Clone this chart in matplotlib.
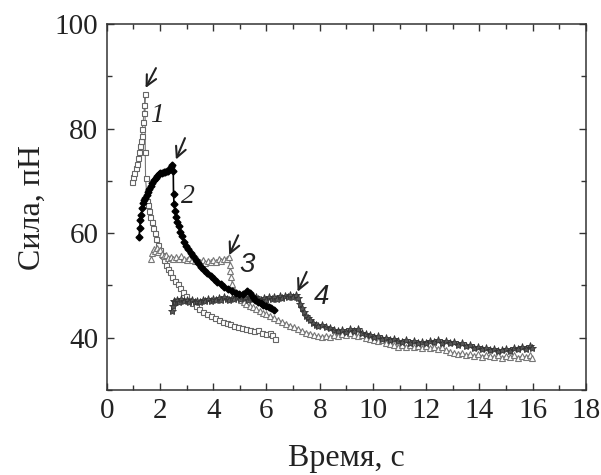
import matplotlib

matplotlib.use("Agg")
import matplotlib.pyplot as plt
from matplotlib.ticker import MultipleLocator

plt.rcParams["font.family"] = ["Liberation Serif", "DejaVu Serif"]

# curve 1 (open squares)
t1 = [0.94, 0.99, 1.04, 1.09, 1.14, 1.18, 1.21, 1.25, 1.28, 1.31, 1.34, 1.37, 1.40, 1.42, 1.44,
      1.45, 1.46, 1.50, 1.53, 1.56, 1.60, 1.64, 1.69, 1.74, 1.80, 1.86, 1.93, 2.00, 2.07, 2.14,
      2.22, 2.30, 2.38, 2.47, 2.56, 2.66, 2.76, 2.87, 2.98, 3.10, 3.22, 3.35, 3.48, 3.62, 3.76,
      3.90, 4.05, 4.20, 4.35, 4.50, 4.65, 4.80, 4.95, 5.10, 5.25, 5.40, 5.55, 5.70, 5.85, 6.00,
      6.12, 6.22, 6.32]
f1 = [69.8, 70.8, 71.6, 72.5, 73.3, 74.4, 75.5, 76.6, 77.6, 78.6, 80.0, 81.3, 83.0, 84.6, 86.6,
      75.5, 70.5, 67.8, 66.2, 65.4, 64.3, 63.2, 62.1, 61.0, 60.0, 58.9, 57.8, 56.8, 55.8, 54.9,
      54.0, 53.2, 52.5, 51.7, 50.9, 50.2, 49.5, 48.7, 48.0, 47.3, 46.6, 46.0, 45.5, 45.0, 44.5,
      44.1, 43.8, 43.4, 43.1, 42.8, 42.6, 42.3, 42.1, 41.9, 41.7, 41.5, 41.3, 41.4, 41.0, 40.8,
      41.0, 40.5, 39.7]

# curve 2 (filled black)
t2 = [1.22, 1.24, 1.27, 1.30, 1.33, 1.36, 1.40, 1.45, 1.50, 1.55, 1.60, 1.66, 1.72, 1.78, 1.84,
      1.90, 1.96, 2.02, 2.08, 2.14, 2.20, 2.26, 2.32, 2.38, 2.43, 2.47, 2.50, 2.51, 2.53, 2.56,
      2.60, 2.65, 2.70, 2.76, 2.83, 2.90, 2.98, 3.06, 3.15, 3.24, 3.34, 3.44, 3.55, 3.66, 3.78,
      3.90, 4.02, 4.15, 4.28, 4.42, 4.56, 4.70, 4.84, 4.98, 5.12, 5.26, 5.38, 5.48, 5.58, 5.68,
      5.78, 5.88, 5.98, 6.08, 6.18, 6.28]
f2 = [59.3, 61.0, 62.5, 63.5, 64.8, 65.8, 66.3, 66.8, 67.3, 67.8, 68.4, 69.0, 69.6, 70.2, 70.6,
      71.0, 71.3, 71.5, 71.6, 71.8, 71.7, 71.9, 72.0, 72.3, 72.6, 73.0, 72.0, 67.5, 65.6, 64.3,
      63.2, 62.2, 61.3, 60.3, 59.4, 58.3, 57.6, 57.0, 56.3, 55.6, 54.9, 54.3, 53.6, 53.0, 52.4,
      51.8, 51.2, 50.7, 50.2, 49.7, 49.3, 48.9, 48.6, 48.3, 48.3, 49.0, 48.6, 47.8, 47.3, 46.9,
      46.6, 46.3, 46.0, 45.8, 45.6, 45.4]

# curve 3 (open triangles)
t3 = [1.68, 1.72, 1.76, 1.82, 1.88, 1.94, 2.00, 2.07, 2.14, 2.22, 2.30, 2.40, 2.50, 2.60, 2.70,
      2.80, 2.90, 3.00, 3.10, 3.20, 3.30, 3.40, 3.50, 3.60, 3.70, 3.80, 3.90, 4.00, 4.10, 4.20,
      4.30, 4.40, 4.50, 4.58, 4.62, 4.65, 4.68, 4.72, 4.78, 4.86, 4.95, 5.05, 5.15, 5.25, 5.38,
      5.50, 5.62, 5.75, 5.88, 6.00, 6.15, 6.30, 6.45, 6.60, 6.75, 6.90, 7.05, 7.20, 7.35, 7.50,
      7.65, 7.80, 7.95, 8.10, 8.25, 8.40, 8.55, 8.70, 8.85, 9.00, 9.15, 9.30, 9.45, 9.60, 9.75,
      9.90, 10.05, 10.20, 10.35, 10.50, 10.65, 10.80, 10.95, 11.10, 11.25, 11.40, 11.55, 11.70,
      11.85, 12.00, 12.15, 12.30, 12.45, 12.60, 12.75, 12.90, 13.05, 13.20, 13.35, 13.50, 13.65,
      13.80, 13.95, 14.10, 14.25, 14.40, 14.55, 14.70, 14.85, 15.00, 15.15, 15.30, 15.45, 15.60,
      15.75, 15.90, 15.98]
f3 = [55.0, 56.3, 57.0, 56.6, 57.1, 56.5, 56.8, 56.0, 55.6, 55.9, 55.2, 55.5, 55.0, 55.4, 55.1,
      55.6, 55.0, 54.8, 55.3, 54.9, 54.6, 55.0, 54.5, 54.8, 54.3, 54.7, 54.4, 54.9, 54.5, 55.0,
      54.6, 55.1, 55.0, 55.5, 54.0, 52.8, 51.6, 50.3, 49.2, 48.4, 47.8, 47.3, 46.9, 46.5, 46.1,
      45.8, 45.5, 45.1, 44.8, 44.5, 44.2, 43.7, 43.4, 43.0, 42.7, 42.3, 42.0, 41.7, 41.3, 41.0,
      40.8, 40.5, 40.3, 40.2, 40.4, 40.1, 40.6, 40.3, 40.8, 40.5, 40.9, 40.6, 40.3, 40.5, 40.0,
      39.8, 39.6, 39.3, 39.5, 39.0, 38.8, 38.6, 38.3, 38.7, 38.3, 38.6, 38.2, 38.5, 38.1, 38.5,
      38.0, 38.3, 37.9, 38.2, 37.7, 37.3, 37.0, 36.8, 37.1, 36.6, 36.9, 36.5, 36.8, 36.4, 36.7,
      36.5, 36.3, 36.6, 36.2, 36.5, 36.3, 36.6, 36.2, 36.5, 36.3, 36.6, 36.2]

# curve 4 (stars)
t4 = [2.44, 2.48, 2.52, 2.58, 2.65, 2.72, 2.80, 2.90, 3.00, 3.10, 3.20, 3.30, 3.40, 3.50, 3.60,
      3.70, 3.80, 3.90, 4.00, 4.10, 4.20, 4.30, 4.40, 4.50, 4.60, 4.70, 4.80, 4.90, 5.00, 5.10,
      5.20, 5.30, 5.40, 5.50, 5.60, 5.70, 5.80, 5.90, 6.00, 6.10, 6.20, 6.30, 6.40, 6.50, 6.60,
      6.70, 6.80, 6.90, 7.00, 7.10, 7.18, 7.25, 7.32, 7.40, 7.48, 7.56, 7.65, 7.75, 7.85, 7.95,
      8.10, 8.25, 8.40, 8.55, 8.70, 8.85, 9.00, 9.15, 9.30, 9.45, 9.60, 9.75, 9.90, 10.05, 10.20,
      10.35, 10.50, 10.65, 10.80, 10.95, 11.10, 11.25, 11.40, 11.55, 11.70, 11.85, 12.00, 12.15,
      12.30, 12.45, 12.60, 12.75, 12.90, 13.05, 13.20, 13.35, 13.50, 13.65, 13.80, 13.95, 14.10,
      14.25, 14.40, 14.55, 14.70, 14.85, 15.00, 15.15, 15.30, 15.45, 15.60, 15.75, 15.90, 15.98]
f4 = [45.2, 46.0, 47.0, 46.8, 47.3, 46.9, 47.4, 47.0, 47.3, 46.9, 47.2, 46.8, 47.1, 46.9, 47.3,
      47.0, 47.4, 47.1, 47.5, 47.2, 47.6, 47.3, 47.7, 47.4, 47.2, 47.6, 47.4, 47.8, 47.5, 47.9,
      47.6, 47.3, 47.7, 47.4, 47.8, 47.5, 47.2, 47.6, 47.3, 47.7, 47.4, 47.8, 47.5, 47.9, 47.6,
      48.0, 47.7, 48.1, 47.8, 48.2, 47.6, 46.5, 45.6, 44.9, 44.2, 43.7, 43.3, 42.8, 42.5, 42.3,
      42.4, 42.0, 41.8, 41.5, 41.2, 41.4, 41.1, 41.6, 41.3, 41.6, 41.0, 40.7, 40.5, 40.1, 40.3,
      39.8, 40.0, 39.6, 39.8, 39.4, 39.1, 39.5, 39.0, 39.3, 38.9, 39.2, 39.0, 39.4, 39.1, 39.5,
      39.0, 39.3, 38.9, 39.2, 38.7, 38.9, 38.4, 38.6, 38.1, 38.3, 37.8, 38.0, 37.6, 37.9, 37.4,
      37.7, 37.9, 37.5, 38.1, 37.8, 38.3, 37.9, 38.4, 38.0]

# arrows (tail -> head) and curve numbers
arrow_tails = [(1.85, 91.6), (2.94, 78.2), (4.94, 59.6), (7.51, 52.6)]
arrow_heads = [(1.46, 87.8), (2.60, 74.1), (4.60, 55.8), (7.17, 48.8)]
labels = ["1", "2", "3", "4"]
label_pos = [(1.90, 82.6), (3.06, 67.0), (5.26, 53.9), (8.07, 47.8)]

fig = plt.figure(figsize=(6.01, 4.75), dpi=100)
ax = fig.add_axes([0.1775, 0.179, 0.7975, 0.77])

ax.plot(t1, f1, "-s", color="#777777", lw=0.8, ms=3.6, mfc="white", mec="#666666", mew=0.8)
ax.plot(t3, f3, "-^", color="#888888", lw=0.9, ms=4.0, mfc="white", mec="#777777", mew=0.8)
ax.plot(t4, f4, "-*", color="#333333", lw=1.2, ms=6, mfc="#555555", mec="#333333", mew=0.6)
ax.plot(t2, f2, "-D", color="black", lw=1.2, ms=3.5, mfc="black", mec="black")

for (x0, y0), (x1, y1) in zip(arrow_tails, arrow_heads):
    ax.annotate("", xy=(x1, y1), xytext=(x0, y0),
                arrowprops=dict(arrowstyle="->,head_length=0.5,head_width=0.25", lw=1.5,
                                color="#222222", shrinkA=0, shrinkB=0,
                                mutation_scale=15))

for i, (lab, (x, y)) in enumerate(zip(labels, label_pos)):
    fam = ["Liberation Serif"] if i < 2 else ["Liberation Sans"]
    ax.text(x, y, lab, fontsize=20, style="italic", family=fam,
            ha="center", va="center", color="#222222")

ax.set_xlim(0, 18)
ax.set_ylim(30, 100)
ax.xaxis.set_major_locator(MultipleLocator(2))
ax.xaxis.set_minor_locator(MultipleLocator(1))
ax.yaxis.set_major_locator(MultipleLocator(20))
ax.yaxis.set_minor_locator(MultipleLocator(10))
ax.set_yticks([40, 60, 80, 100])
ax.tick_params(which="both", direction="in", top=True, right=True, labelsize=21,
               width=1.0, colors="#333333", labelcolor="#222222")
ax.tick_params(which="major", length=5, pad=6)
ax.tick_params(which="minor", length=3.5)
for sp in ax.spines.values():
    sp.set_linewidth(1.1)
    sp.set_color("#333333")

ax.set_xlabel("Время, с", fontsize=23, labelpad=14, color="#222222")
ax.set_ylabel("Сила, пН", fontsize=23, labelpad=6, color="#222222")

fig.savefig("out.png", dpi=100)
